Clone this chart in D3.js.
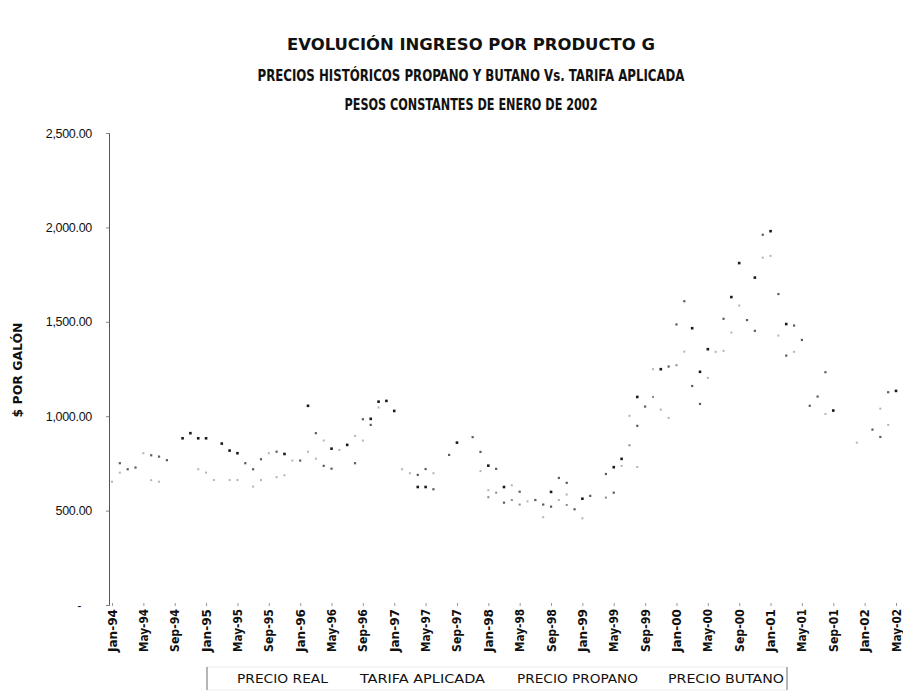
<!DOCTYPE html>
<html>
<head>
<meta charset="utf-8">
<script src="https://cdnjs.cloudflare.com/ajax/libs/d3/7.8.5/d3.min.js"></script>
<style>
  body { margin: 0; background: #fff; }
  svg { display: block; }
</style>
</head>
<body>
<div id="chart"></div>
<script>
// Monthly values, Jan-94 (index 0) to May-02 (index 100); null where no dot survives in the scan
var precioReal = [
  null, null, null, null, null, null, null, null, null, 883,
  910, 883, 883, null, 855, 818, 804, null, null, null,
  null, null, 800, null, null, 1055, null, null, 828, null,
  848, null, null, 986, 1077, 1081, 1028, null, null, 625,
  625, null, null, null, 860, null, null, null, 738, null,
  625, null, null, null, null, null, 599, null, null, null,
  563, null, null, null, 730, 774, null, 1102, null, null,
  1249, null, null, null, 1466, 1235, 1355, null, null, 1631,
  1811, null, 1734, null, 1980, null, 1488, null, null, null,
  null, null, 1030, null, null, null, null, null, null, null,
  1134
];
var tarifaAplicada = [
  null, 751, 719, 728, null, 793, 786, 767, null, null,
  null, null, null, null, null, null, null, 751, 719, 772,
  null, 812, null, null, 765, null, 910, 737, 722, null,
  null, 751, 984, 954, null, null, null, null, null, 689,
  720, 613, null, 795, null, null, 889, 811, null, 721,
  542, null, 600, null, 556, 532, 521, 673, 647, 507,
  null, 578, null, 694, 595, null, null, 949, 1051, null,
  null, 1263, 1486, 1609, 1160, 1065, null, null, 1516, null,
  null, 1509, 1452, 1961, null, 1647, 1321, 1480, 1404, 1055,
  1104, 1233, null, null, null, null, null, 929, 890, 1127,
  null
];
var precioPropano = [
  653, 701, null, null, 804, 661, 653, null, null, null,
  null, 719, 701, 662, null, 662, 662, null, 627, 662,
  804, 677, 687, 765, null, 812, 775, 871, null, 821,
  null, 896, 871, null, 1046, null, null, 719, 698, null,
  null, 698, null, null, null, null, null, 709, 608, null,
  null, 634, null, 549, null, 465, null, 556, 585, null,
  459, null, null, null, null, 737, 1002, 731, null, 1249,
  1035, 991, null, 1342, null, null, 1203, 1341, 1346, 1443,
  1586, null, null, 1840, 1849, 1427, null, 1341, null, null,
  null, 1012, null, null, null, 860, null, null, 1040, 954,
  null
];
var precioButano = [
  null, null, null, null, null, null, null, null, null, null,
  null, null, null, null, null, null, null, null, null, null,
  null, null, null, null, null, null, null, null, null, null,
  null, null, null, null, null, null, null, null, null, null,
  null, null, null, null, null, null, null, null, 571, 595,
  null, 556, 532, null, null, null, null, null, 530, null,
  null, null, null, 569, null, null, 846, null, null, 1102,
  null, null, 1270, null, null, null, null, null, null, null,
  null, null, null, null, null, null, null, null, null, null,
  null, null, null, null, null, null, null, null, null, null,
  null
];

var xLabels = ["Jan-94", "May-94", "Sep-94", "Jan-95", "May-95", "Sep-95", "Jan-96", "May-96",
  "Sep-96", "Jan-97", "May-97", "Sep-97", "Jan-98", "May-98", "Sep-98", "Jan-99", "May-99",
  "Sep-99", "Jan-00", "May-00", "Sep-00", "Jan-01", "May-01", "Sep-01", "Jan-02", "May-02"];
var yTicks = [0, 500, 1000, 1500, 2000, 2500];

var seriesNames = ["PRECIO REAL", "TARIFA APLICADA", "PRECIO PROPANO", "PRECIO BUTANO"];
var seriesData = [precioReal, tarifaAplicada, precioPropano, precioButano];
var seriesColor = ["#1a1a1a", "#5c5c5c", "#b4b4b4", "#8a8a8a"];
var seriesSize = [2.6, 2.2, 2, 2];

var w = 903, h = 691;
var svg = d3.select("#chart").append("svg").attr("width", w).attr("height", h);

// titles
var titles = [
  ["EVOLUCIÓN INGRESO POR PRODUCTO G", 50, 368],
  ["PRECIOS HISTÓRICOS PROPANO Y BUTANO Vs. TARIFA APLICADA", 81, 427],
  ["PESOS CONSTANTES DE ENERO DE 2002", 110, 253]
];
titles.forEach(function(t) {
  svg.append("text")
    .attr("x", 471).attr("y", t[1])
    .attr("text-anchor", "middle")
    .attr("textLength", t[2]).attr("lengthAdjust", "spacingAndGlyphs")
    .style("font-family", "'DejaVu Sans Condensed', 'DejaVu Sans', sans-serif")
    .style("font-weight", "bold").style("font-size", "15px")
    .style("fill", "#111")
    .text(t[0]);
});

// scales
var x = d3.scaleLinear().domain([0, 100]).range([112, 896]);
var y = d3.scaleLinear().domain([0, 2500]).range([605, 133]);

// y axis
var yAxis = d3.axisLeft(y).tickValues(yTicks).tickSize(3)
  .tickFormat(function(d) { return d === 0 ? "-" : d3.format(",.2f")(d); });
var gy = svg.append("g").attr("transform", "translate(109,0)").call(yAxis);
gy.select(".domain").attr("stroke", "#555").attr("stroke-width", 1);
gy.selectAll(".tick line").attr("stroke", "#888");
gy.selectAll(".tick text")
  .attr("x", -17)
  .style("font-family", "'Liberation Sans', Arial, sans-serif")
  .style("font-size", "12.5px").style("letter-spacing", "-0.3px").style("fill", "#111");
gy.selectAll(".tick").filter(function(d) { return d === 0; }).select("text").attr("x", -28);

svg.append("text")
  .attr("transform", "translate(22,370) rotate(-90)")
  .attr("text-anchor", "middle")
  .attr("textLength", 95).attr("lengthAdjust", "spacingAndGlyphs")
  .style("font-family", "'DejaVu Sans Condensed', 'DejaVu Sans', sans-serif")
  .style("font-weight", "bold").style("font-size", "12px").style("fill", "#111")
  .text("$ POR GALÓN");

// x axis (ticks every 4 months)
var xTickIdx = xLabels.map(function(d, i) { return i * 4; });
var xAxis = d3.axisBottom(x).tickValues(xTickIdx).tickSize(3)
  .tickFormat(function(d, i) { return xLabels[i]; });
var gx = svg.append("g").attr("transform", "translate(0,603)").call(xAxis);
gx.select(".domain").remove();
gx.selectAll(".tick line").attr("stroke", "#999");
gx.selectAll(".tick text")
  .attr("transform", "rotate(-90)")
  .attr("x", -6).attr("y", 0).attr("dy", "0.35em")
  .attr("text-anchor", "end")
  .attr("textLength", 43).attr("lengthAdjust", "spacingAndGlyphs")
  .style("font-family", "'DejaVu Sans Condensed', 'DejaVu Sans', sans-serif")
  .style("font-weight", "bold").style("font-size", "11.5px").style("fill", "#111");

// dots
seriesData.forEach(function(data, s) {
  var pts = data.map(function(v, i) { return {i: i, v: v}; })
    .filter(function(d) { return d.v !== null; });
  svg.append("g").selectAll("rect").data(pts).enter().append("rect")
    .attr("x", function(d) { return x(d.i) - seriesSize[s] / 2; })
    .attr("y", function(d) { return y(d.v) - seriesSize[s] / 2; })
    .attr("width", seriesSize[s]).attr("height", seriesSize[s])
    .style("fill", seriesColor[s]);
});

// legend
var legX = [237, 360, 517, 668];
var legW = [91, 125, 121, 116];
var leg = svg.append("g");
leg.append("rect").attr("x", 207).attr("y", 667).attr("width", 580).attr("height", 23)
  .style("fill", "none").style("stroke", "#ececec");
leg.append("line").attr("x1", 207).attr("x2", 207).attr("y1", 667).attr("y2", 690).style("stroke", "#777");
leg.append("line").attr("x1", 787).attr("x2", 787).attr("y1", 667).attr("y2", 690).style("stroke", "#777");
seriesNames.forEach(function(n, i) {
  leg.append("text")
    .attr("x", legX[i]).attr("y", 683)
    .attr("textLength", legW[i]).attr("lengthAdjust", "spacingAndGlyphs")
    .style("font-family", "'DejaVu Sans Condensed', 'DejaVu Sans', sans-serif")
    .style("font-size", "12.5px").style("fill", "#111")
    .text(n);
});
</script>
</body>
</html>
